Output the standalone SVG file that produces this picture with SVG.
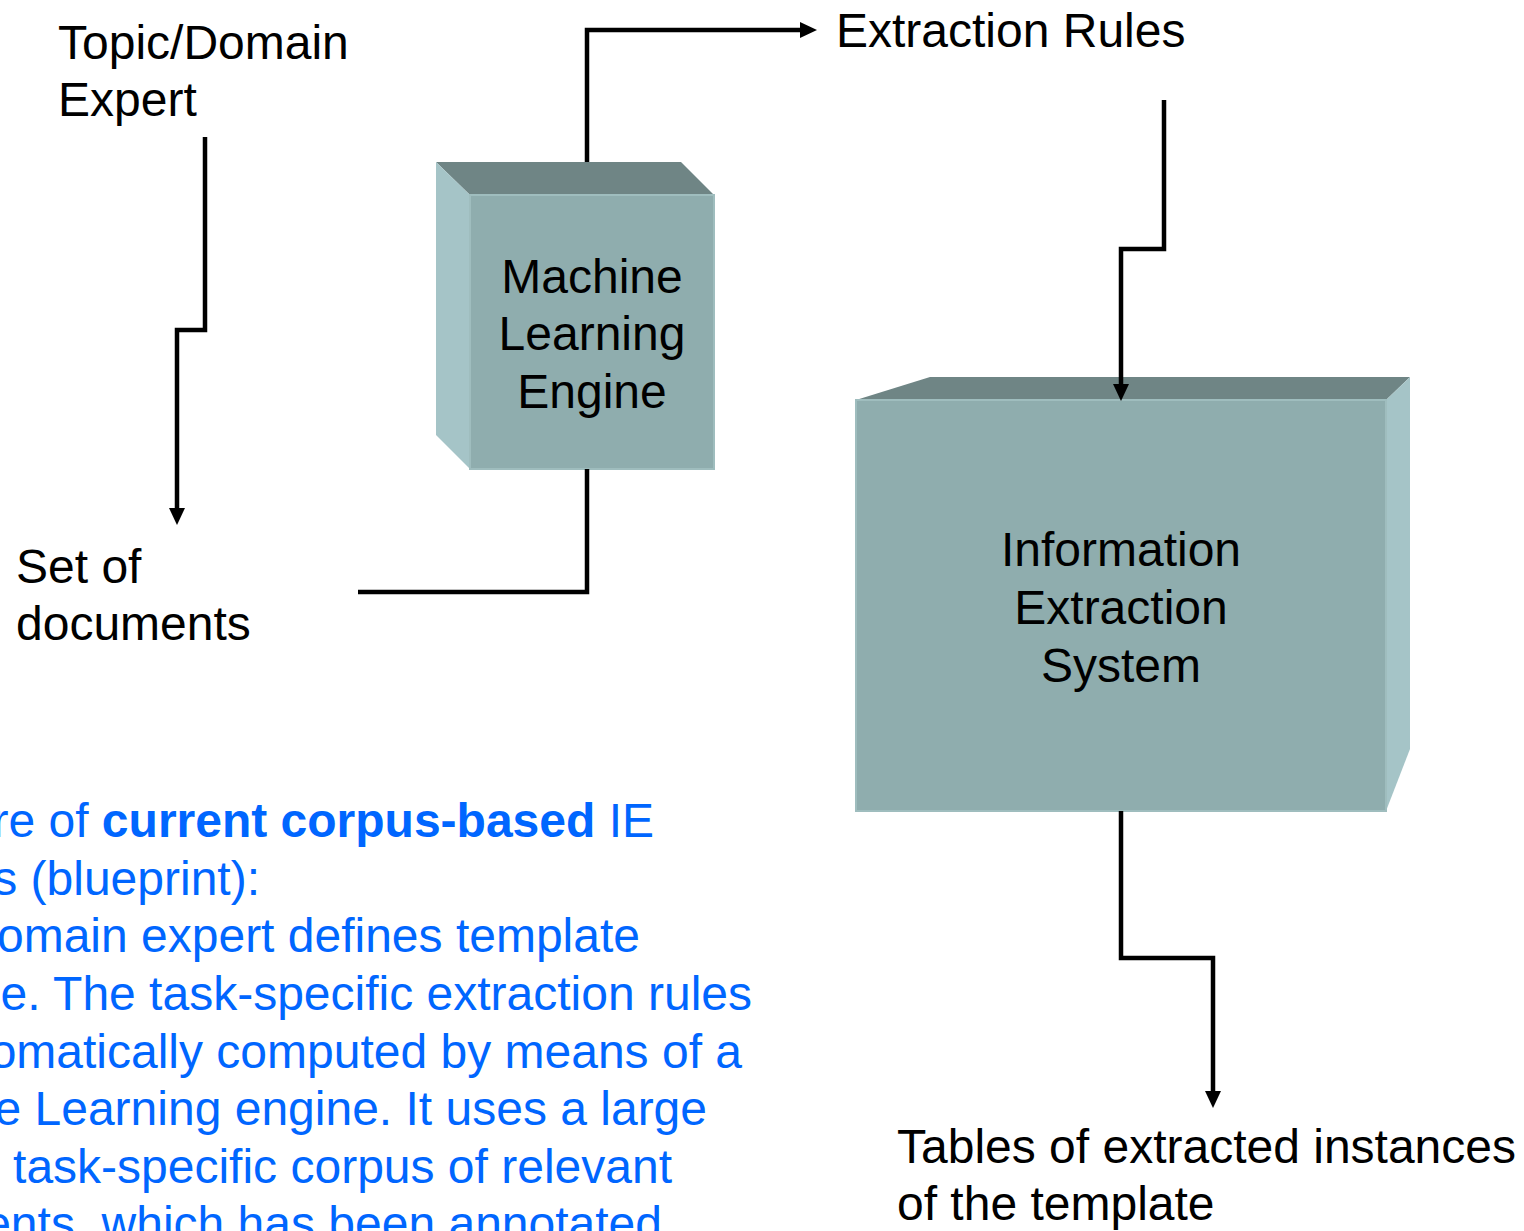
<svg xmlns="http://www.w3.org/2000/svg" width="1524" height="1231" viewBox="0 0 1524 1231">
  <style>
    .lbl { font-family: "Liberation Sans", Arial, Helvetica, sans-serif; font-size: 48px; fill: #000000; }
    .box-lbl { font-family: "Liberation Sans", Arial, Helvetica, sans-serif; font-size: 48px; fill: #000000; text-anchor: middle; }
    .note { font-family: "Liberation Sans", Arial, Helvetica, sans-serif; font-size: 48px; fill: #0066FF; text-anchor: end; }
    .bold { font-weight: bold; }
    .top { fill: #6F8585; }
    .front { fill: #8FADAE; stroke: #9FBDBE; stroke-width: 2; }
    .side { fill: #A5C4C7; }
    .wire { fill: none; stroke: #000000; stroke-width: 4.5; stroke-linejoin: miter; }
  </style>
  <defs>
    <marker id="arrow" markerUnits="userSpaceOnUse" markerWidth="18" markerHeight="16" refX="0" refY="8" orient="auto">
      <path d="M0,0 L17,8 L0,16 z" fill="#000000"/>
    </marker>
  </defs>

  <rect width="1524" height="1231" fill="#FFFFFF"/>

  <!-- machine learning engine (3D block) -->
  <g id="ml-engine">
    <polygon class="top" points="436,162 681,162 714,195 470,195"/>
    <polygon class="side" points="436,162 470,195 470,469 436,435"/>
    <rect class="front" x="470" y="195" width="244" height="274"/>
    <text class="box-lbl" x="592" y="293">Machine</text>
    <text class="box-lbl" x="592" y="350">Learning</text>
    <text class="box-lbl" x="592" y="408">Engine</text>
  </g>

  <!-- information extraction system (3D block) -->
  <g id="ie-system">
    <polygon class="top" points="856,400 930,377 1410,377 1386,400"/>
    <polygon class="side" points="1386,400 1410,377 1410,749 1386,811"/>
    <rect class="front" x="856" y="400" width="530" height="411"/>
    <text class="box-lbl" x="1121" y="566">Information</text>
    <text class="box-lbl" x="1121" y="624">Extraction</text>
    <text class="box-lbl" x="1121" y="682">System</text>
  </g>

  <!-- free labels -->
  <g id="expert">
    <text class="lbl" x="58" y="59">Topic/Domain</text>
    <text class="lbl" x="58" y="116">Expert</text>
  </g>
  <g id="documents">
    <text class="lbl" x="16" y="583">Set of</text>
    <text class="lbl" x="16" y="640">documents</text>
  </g>
  <g id="rules">
    <text class="lbl" x="836" y="47">Extraction Rules</text>
  </g>
  <g id="tables">
    <text class="lbl" x="897" y="1163">Tables of extracted instances</text>
    <text class="lbl" x="897" y="1220">of the template</text>
  </g>

  <!-- description text -->
  <g id="description">
    <text class="note" x="654" y="837">re of <tspan class="bold">current corpus-based</tspan> IE</text>
    <text class="note" x="260" y="895">s (blueprint):</text>
    <text class="note" x="640" y="952">omain expert defines template</text>
    <text class="note" x="752" y="1010">e. The task-specific extraction rules</text>
    <text class="note" x="742" y="1068">omatically computed by means of a</text>
    <text class="note" x="707" y="1125">e Learning engine. It uses a large</text>
    <text class="note" x="672" y="1183">task-specific corpus of relevant</text>
    <text class="note" x="662" y="1240">ents, which has been annotated</text>
  </g>

  <!-- connectors, drawn last so arrowheads sit over the blocks -->
  <g id="connectors">
    <path class="wire" d="M587,162 V30 H800" marker-end="url(#arrow)"/>
    <path class="wire" d="M205,137 V330 H177 V508" marker-end="url(#arrow)"/>
    <path class="wire" d="M587,469 V592 H358"/>
    <path class="wire" d="M1164,100 V249 H1121 V384" marker-end="url(#arrow)"/>
    <path class="wire" d="M1121,811 V958 H1213 V1091" marker-end="url(#arrow)"/>
  </g>
</svg>
